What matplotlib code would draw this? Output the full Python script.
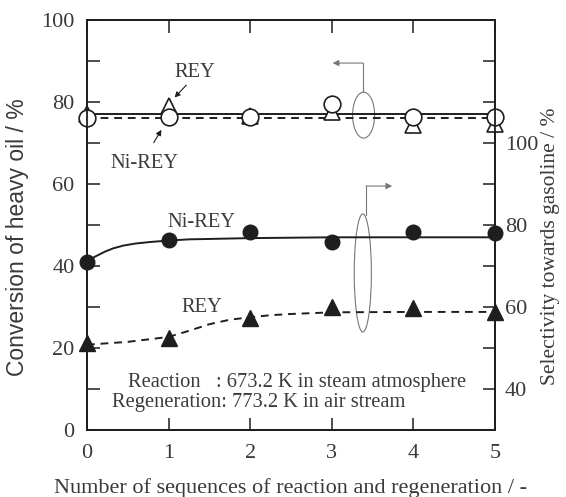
import matplotlib
matplotlib.use("Agg")
import matplotlib.pyplot as plt
from matplotlib.patches import Ellipse

# ---------------- data ----------------
cycles = [0, 1, 2, 3, 4, 5]

# Conversion of heavy oil (left axis, open symbols)
conv_rey = [77.0, 79.0, 76.6, 77.5, 74.4, 74.6]      # open triangles
conv_nirey = [76.1, 76.3, 76.3, 79.5, 76.3, 76.3]    # open circles
conv_fit_solid = 77.1
conv_fit_dashed = 76.0

# Selectivity towards gasoline (right axis, filled symbols)
sel_nirey = [71.0, 76.3, 78.3, 75.9, 78.3, 78.0]     # filled circles
sel_rey = [51.2, 52.4, 57.3, 59.9, 59.8, 58.8]       # filled triangles

# fitted curves
fit_nirey_x = [0, 0.05, 0.1, 0.15, 0.22, 0.32, 0.45, 0.6, 0.8, 1.0, 1.25, 1.5, 2.0, 3.0, 4.0, 5.0]
fit_nirey_y = [71.0, 71.7, 72.3, 72.8, 73.5, 74.3, 75.0, 75.5, 75.9, 76.2, 76.5, 76.6, 76.8, 77.0, 77.0, 77.0]
fit_rey_x = [0, 0.5, 1.0, 1.25, 1.5, 1.75, 2.0, 2.25, 2.5, 3.0, 4.0, 5.0]
fit_rey_y = [50.8, 51.5, 52.7, 54.2, 55.8, 56.9, 57.5, 58.0, 58.3, 58.7, 58.8, 58.8]

left_ticks = [0, 20, 40, 60, 80, 100]
right_ticks = [40, 60, 80, 100]

TXT = "#3a3a3a"
LN = "#1e1e1e"
SERIF = "Liberation Serif"

plt.rcParams["font.family"] = SERIF

fig = plt.figure(figsize=(5.66, 4.97), dpi=100)
ax = fig.add_axes([87 / 566, 1 - 430 / 497, (495 - 87) / 566, (430 - 20) / 497])
ax2 = ax.twinx()

ax.set_xlim(0, 5)
ax.set_ylim(0, 100)
ax2.set_ylim(30, 130)

# horizontal fits for conversion
ax.plot([0, 5], [conv_fit_solid] * 2, color=LN, lw=1.4, zorder=2, clip_on=False)
ax.plot([0, 5], [conv_fit_dashed] * 2, color=LN, lw=1.4, ls=(0, (4, 3)), zorder=2, clip_on=False)

ax.plot(cycles, conv_rey, ls="none", marker="^", ms=12, mfc="white", mec=LN, mew=1.2,
        zorder=3, clip_on=False)
ax.plot(cycles, conv_nirey, ls="none", marker="o", ms=12, mfc="white", mec=LN, mew=1.2,
        zorder=4, clip_on=False)

# selectivity
ax2.plot(fit_nirey_x, fit_nirey_y, color=LN, lw=1.4, zorder=2, clip_on=False)
ax2.plot(fit_rey_x, fit_rey_y, color=LN, lw=1.4, ls=(0, (4, 3)), zorder=2, clip_on=False)
ax2.plot(cycles, sel_nirey, ls="none", marker="o", ms=10.5, mfc=LN, mec=LN, zorder=3, clip_on=False)
ax2.plot(cycles, sel_rey, ls="none", marker="^", ms=12, mfc=LN, mec=LN, zorder=3, clip_on=False)

# ticks
ax.set_xticks(cycles)
ax.set_yticks(left_ticks)
ax.set_yticks(range(10, 100, 20), minor=True)
ax2.set_yticks(right_ticks)
ax2.set_yticks([50, 70, 90, 110, 120], minor=True)
ax.tick_params(axis="both", which="both", direction="in", length=9, width=1.1, color=LN,
               labelsize=16, labelcolor=TXT, top=True)
ax.tick_params(axis="x", pad=10)
ax.tick_params(axis="y", pad=9)
ax.tick_params(axis="y", which="both", right=False)
ax2.tick_params(axis="y", which="both", direction="in", length=9, width=1.1, color=LN,
                labelsize=16, labelcolor=TXT, pad=7)
for a in (ax, ax2):
    for s in a.spines.values():
        s.set_color(LN)
        s.set_linewidth(1.3)

ax.set_xlabel("Number of sequences of reaction and regeneration / -", fontsize=16,
              color=TXT, va="center")
ax.xaxis.set_label_coords(0.5, -(488 - 430) / 410)
ax.set_ylabel("Conversion of heavy oil / %", fontsize=16.5, color=TXT,
              family="Liberation Sans", va="center")
ax.yaxis.set_label_coords((18 - 87) / 408, 1 - (237 - 20) / 410)
ax2.set_ylabel("Selectivity towards gasoline / %", fontsize=15.5, color=TXT, va="center")
ax2.yaxis.set_label_coords((551 - 87) / 408, 1 - (246 - 20) / 410)

# annotations
FS = 14.8
ax.text(1.32, 87.1, "REY", fontsize=FS, color=TXT, ha="center", va="center")
ax.annotate("", xy=(1.05, 80.6), xytext=(1.24, 84.6),
            arrowprops=dict(arrowstyle="-|>", color=LN, lw=0.8, mutation_scale=8))
ax.text(0.71, 65.1, "Ni-REY", fontsize=FS, color=TXT, ha="center", va="center")
ax.annotate("", xy=(0.93, 73.8), xytext=(0.80, 69.5),
            arrowprops=dict(arrowstyle="-|>", color=LN, lw=0.8, mutation_scale=8))
ax.text(1.40, 50.7, "Ni-REY", fontsize=FS, color=TXT, ha="center", va="center")
ax.text(1.41, 29.8, "REY", fontsize=FS, color=TXT, ha="center", va="center")

ax.text(0.50, 11.7, "Reaction   : 673.2 K in steam atmosphere", fontsize=FS, color=TXT,
        ha="left", va="center")
ax.text(0.31, 6.8, "Regeneration: 773.2 K in air stream", fontsize=FS, color=TXT,
        ha="left", va="center")

# axis-indicating arrows and loops
GR = "#777777"
ax.plot([3.38, 3.38], [82.4, 89.5], color=GR, lw=0.8)
ax.annotate("", xy=(3.01, 89.5), xytext=(3.38, 89.5),
            arrowprops=dict(arrowstyle="-|>", color=GR, lw=0.8, mutation_scale=9,
                            shrinkA=0, shrinkB=0))
ax.add_patch(Ellipse((3.39, 76.8), 0.27, 11.2, fill=False, ec=GR, lw=0.8, zorder=1))

ax.plot([3.42, 3.42], [52.4, 59.5], color=GR, lw=0.8)
ax.annotate("", xy=(3.74, 59.5), xytext=(3.42, 59.5),
            arrowprops=dict(arrowstyle="-|>", color=GR, lw=0.8, mutation_scale=9,
                            shrinkA=0, shrinkB=0))
ax.add_patch(Ellipse((3.38, 38.3), 0.21, 28.8, fill=False, ec=GR, lw=0.8, zorder=1))

fig.savefig("out.png", dpi=100)
